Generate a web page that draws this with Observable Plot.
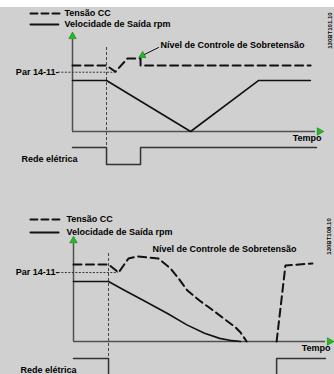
<!DOCTYPE html>
<html><head><meta charset="utf-8">
<script src="https://cdn.jsdelivr.net/npm/d3@7"></script>
<script src="https://cdn.jsdelivr.net/npm/@observablehq/plot@0.6"></script>
<style>
html,body{margin:0;padding:0;background:#d0d0d0;width:334px;height:374px;overflow:hidden;}
#wrap{position:relative;width:334px;height:374px;}
#band{position:absolute;left:0;top:0;width:334px;height:7px;background:#fff;}
svg{display:block;}
</style></head><body><div id="wrap"><div id="charts"></div><div id="band"></div></div>
<script>
// ---- texts ----
const legendLabels = ["Tensão CC", "Velocidade de Saída rpm"];
const parLabel = "Par 14-11";
const mainsLabel = "Rede elétrica";
const timeLabel = "Tempo";
const ovcLabel = "Nível de Controle de Sobretensão";
const figIds = ["130BT101.10", "130BT108.10"];

// ---- Figure 1 (top): time in % of axis length, level in % of axis height ----
const topDcTime = [0, 14, 17.7, 22.6, 28, 28, 98];
const topDcLevel = [67.3, 67.3, 61, 74.5, 74.5, 67.3, 67.3];
const topSpeedTime = [0, 14, 48.6, 76.5, 97.9];
const topSpeedLevel = [52, 52, 0, 52, 52];
const topMainsTime = [0, 14, 14, 28, 28, 100.4];
const topMainsLevel = [-16.3, -16.3, -33.7, -33.7, -16.3, -16.3];
const topPar = 60.5;
const topDropout = 14;

// ---- Figure 2 (bottom) ----
const botDcTime = [0, 13.9, 17.9, 21.8, 25.4, 33.7, 38.5, 41.7, 45.2, 50, 54.4, 59.1, 64.3, 66.3, 68.7];
const botDcLevel = [74, 74, 66.3, 79.8, 81.7, 79.8, 70.2, 60.6, 49, 39.4, 31.7, 23.1, 13.5, 8.7, 0];
const botDcRecoverTime = [80.6, 84.1, 94.8];
const botDcRecoverLevel = [0, 73.1, 75];
const botSpeedTime = [0, 13.9, 20, 27.8, 37.3, 45, 52, 58, 63, 66.3];
const botSpeedLevel = [57.7, 57.7, 49.5, 39.4, 26.9, 16, 8, 3, 0.8, 0];
const botMainsTime = [0, 13.9, 13.9];
const botMainsLevel = [-16.3, -16.3, -31.7];
const botMainsRecoverTime = [80.6, 80.6, 100];
const botMainsRecoverLevel = [-31.7, -16.3, -16.3];
const botPar = 66.3;
const botDropout = 13.9;

const zip = (a, b) => a.map((v, i) => ({x: v, y: b[i]}));
const ink = "#111";
const axisColor = "#505050";
const green = "#1fbf1f";
const font = {fontFamily: "Liberation Sans, Arial, sans-serif", fontWeight: "bold", fill: "#000"};

function panel(c) {
  const marks = [
    // axes
    Plot.ruleY([0], {x1: 0, x2: 100, stroke: axisColor, strokeWidth: 1.5}),
    Plot.ruleX([0], {y1: 0, y2: 94, stroke: axisColor, strokeWidth: 1.5}),
    Plot.dot([{x: 101.6, y: 0}], {x: "x", y: "y", symbol: "triangle", r: 2.8, fill: green, stroke: "#0a6a0a", strokeWidth: 0.5, rotate: 90}),
    Plot.dot([{x: 0, y: 97}], {x: "x", y: "y", symbol: "triangle", r: 2.8, fill: green, stroke: "#0a6a0a", strokeWidth: 0.5}),
    // dropout marker and parameter level
    Plot.ruleX([c.dropout], {y1: c.dropTop, y2: c.dropBottom, stroke: "#444", strokeWidth: 1, strokeDasharray: "3,2"}),
    Plot.ruleY([c.par], {x1: c.parX1, x2: c.parX2, stroke: "#333", strokeWidth: 1, strokeDasharray: "2,1.5"}),
    // series
    ...c.dc.map(d => Plot.line(d, {x: "x", y: "y", stroke: ink, strokeWidth: 2, strokeDasharray: "8,4.5"})),
    Plot.line(c.speed, {x: "x", y: "y", stroke: ink, strokeWidth: 1.6}),
    ...c.mains.map(d => Plot.line(d, {x: "x", y: "y", stroke: "#333", strokeWidth: 1.5})),
    // legend
    Plot.line(c.legDash, {x: "x", y: "y", stroke: ink, strokeWidth: 2, strokeDasharray: "7,4"}),
    Plot.line(c.legSolid, {x: "x", y: "y", stroke: ink, strokeWidth: 1.8}),
    Plot.text([legendLabels[0]], {x: c.legTextX, y: c.legDash[0].y, text: d => d, textAnchor: "start", fontSize: 9, ...font}),
    Plot.text([legendLabels[1]], {x: c.legTextX, y: c.legSolid[0].y, text: d => d, textAnchor: "start", fontSize: 9, ...font}),
    // labels
    Plot.text([parLabel + "-"], {x: c.parX1, y: c.par, text: d => d, textAnchor: "end", fontSize: 9, ...font}),
    Plot.text([mainsLabel], {x: c.mainsX, y: c.mainsY, text: d => d, textAnchor: "start", fontSize: 9, ...font}),
    Plot.text([timeLabel], {x: c.timeX, y: c.timeY, text: d => d, textAnchor: "end", fontSize: 9, ...font}),
    Plot.text([ovcLabel], {x: c.ovcX, y: c.ovcY, text: d => d, textAnchor: "start", fontSize: 9, ...font}),
    Plot.text([c.id], {x: c.idX, y: c.idY, text: d => d, rotate: -90, fontSize: 6, ...font})
  ];
  if (c.ovcArrow) {
    marks.push(Plot.line(c.ovcArrow, {x: "x", y: "y", stroke: ink, strokeWidth: 1}));
    marks.push(Plot.dot([c.ovcArrow[1]], {x: "x", y: "y", symbol: "triangle", r: 2.6, fill: green, stroke: "#0a6a0a", strokeWidth: 0.5, rotate: 243}));
  }
  return Plot.plot({
    width: 334, height: 187,
    x: {domain: [0, 100], range: c.xRange, axis: null},
    y: {domain: [0, 100], range: c.yRange, axis: null},
    style: {background: "transparent", overflow: "visible"},
    marks
  });
}

const top1 = panel({
  xRange: [72, 315], yRange: [131, 33],
  dc: [zip(topDcTime, topDcLevel)],
  speed: zip(topSpeedTime, topSpeedLevel),
  mains: [zip(topMainsTime, topMainsLevel)],
  dropout: topDropout, dropTop: 85.7, dropBottom: -33.7,
  par: topPar, parX1: -5.8, parX2: 17.7,
  legDash: zip([-17.3, -4.9], [120.4, 120.4]),
  legSolid: zip([-17.3, -5.8], [109.2, 109.2]),
  legTextX: -3.3,
  mainsX: -21, mainsY: -28.6,
  timeX: 102.5, timeY: -7.1,
  ovcX: 36.2, ovcY: 87.8,
  ovcArrow: zip([35.4, 28.8], [85.7, 77.6]),
  id: figIds[0], idX: 105.8, idY: 103
});

const bot = panel({
  xRange: [73, 325], yRange: [154, 50],
  dc: [zip(botDcTime, botDcLevel), zip(botDcRecoverTime, botDcRecoverLevel)],
  speed: zip(botSpeedTime, botSpeedLevel),
  mains: [zip(botMainsTime, botMainsLevel), zip(botMainsRecoverTime, botMainsRecoverLevel)],
  dropout: botDropout, dropTop: 84.6, dropBottom: -31.7,
  par: botPar, parX1: -6, parX2: 17.9,
  legDash: zip([-17.1, -5.2], [117.3, 117.3]),
  legSolid: zip([-17.1, -5.9], [104.8, 104.8]),
  legTextX: -2.8,
  mainsX: -21, mainsY: -27.9,
  timeX: 102, timeY: -6.7,
  ovcX: 31.3, ovcY: 88.5,
  ovcArrow: null,
  id: figIds[1], idX: 101.6, idY: 101
});

const host = document.getElementById("charts");
host.appendChild(top1);
host.appendChild(bot);
</script>
</body></html>
